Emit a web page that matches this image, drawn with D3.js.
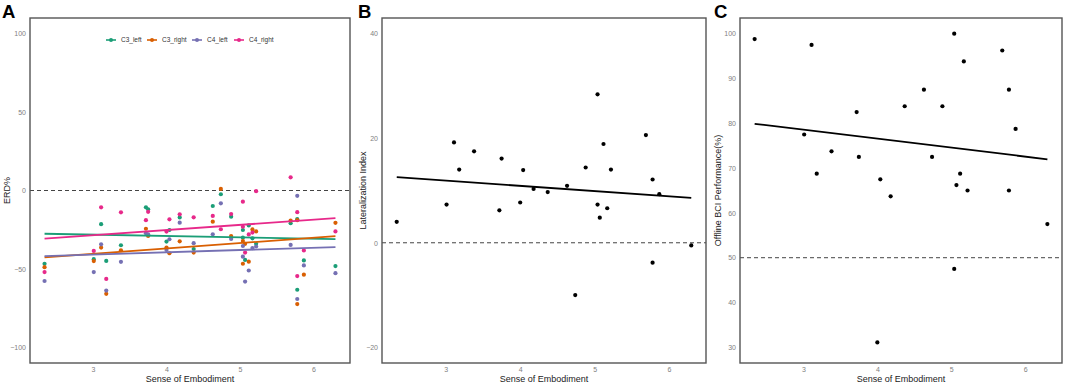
<!DOCTYPE html>
<html>
<head>
<meta charset="utf-8">
<script src="https://cdn.jsdelivr.net/npm/d3@7"></script>
<style>
  body { margin: 0; background: #fff; }
  svg { display: block; font-family: "Liberation Sans", Arial, sans-serif; }
  .tick text { fill: #808080; font-size: 7px; }
</style>
</head>
<body>
<div id="chart"></div>
<script>
// subjects, sorted by sense of embodiment score
const embodiment = [2.34, 3.01, 3.11, 3.18, 3.38, 3.72, 3.75, 4.00, 4.04, 4.18, 4.37, 4.63, 4.74,
  4.88, 5.04, 5.04, 5.07, 5.12, 5.17, 5.22, 5.69, 5.78, 5.78, 5.87, 6.30];

// panel A: ERD% per channel / hand
const erdC3Left = [-46.7, -43.8, -21.5, -44.9, -34.9, -10.7, -12.0, -32.6, -25.2, -17.2, -37.3, -9.9, -2.4,
  -16.7, -25.2, -30.1, -44.3, -22.3, -30.5, -34.0, -20.9, -18.3, -63.3, -44.6, -48.2];
const erdC3Right = [-48.9, -45.0, -36.4, -65.9, -38.1, -24.4, -29.0, -36.4, -40.0, -32.4, -39.6, -19.9, 1.0,
  -29.0, -32.2, -46.7, -34.0, -45.4, -24.8, -26.1, -19.2, -18.9, -72.4, -53.7, -20.6];
const erdC4Left = [-57.7, -52.0, -34.3, -63.8, -45.5, -27.2, -27.9, -37.9, -31.1, -20.5, -33.6, -27.9, -8.2,
  -30.9, -35.4, -42.2, -58.1, -51.0, -36.7, -35.7, -34.7, -3.4, -69.2, -47.8, -52.7];
const erdC4Right = [-52.0, -38.5, -10.7, -56.4, -13.9, -18.9, -13.6, -26.2, -18.4, -15.2, -17.1, -16.2, -24.7,
  -15.0, -7.1, -23.1, -39.6, -28.0, -26.8, -0.4, 8.4, -13.8, -54.6, -38.2, -26.1];

// panel B / C
const lateralization = [4.0, 7.3, 19.2, 14.0, 17.5, 6.2, 16.1, 7.7, 13.9, 10.3, 9.7, 10.9, -10.0,
  14.4, 28.4, 7.3, 4.8, 18.9, 6.6, 14.0, 20.6, 12.1, -3.8, 9.3, -0.5];
const bciPerformance = [98.8, 77.5, 97.5, 68.75, 73.75, 82.5, 72.5, 31.1, 67.5, 63.7, 83.8, 87.5, 72.5,
  83.8, 100, 47.5, 66.2, 68.75, 93.8, 65, 96.25, 87.5, 65, 78.75, 57.5];

const seriesNames = ["C3_left", "C3_right", "C4_left", "C4_right"];
const seriesColors = ["#1b9e77", "#d95f02", "#7570b3", "#e7298a"];
const xTicks = [3, 4, 5, 6];
const yTicksA = [-100, -50, 0, 50, 100];
const yTicksB = [-20, 0, 20, 40];
const yTicksC = [30, 40, 50, 60, 70, 80, 90, 100];

const W = 1065, H = 385;
const plotTop = 18, plotBottom = 363;

const svg = d3.select("#chart").append("svg")
  .attr("width", W)
  .attr("height", H);

// least squares fit, returns the two end points over the data range
function fitLine(xs, ys) {
  const mx = d3.mean(xs), my = d3.mean(ys);
  let sxy = 0, sxx = 0;
  xs.forEach((x, i) => { sxy += (x - mx) * (ys[i] - my); sxx += (x - mx) * (x - mx); });
  const b = sxy / sxx, a = my - b * mx;
  const [x0, x1] = d3.extent(xs);
  return [[x0, a + b * x0], [x1, a + b * x1]];
}

// ggplot style 5% expansion
function expand(lo, hi) {
  const p = (hi - lo) * 0.05;
  return [lo - p, hi + p];
}

function drawPanel(opt) {
  const g = svg.append("g");
  const xr = d3.extent(embodiment);
  const x = d3.scaleLinear().domain(expand(xr[0], xr[1])).range([opt.left, opt.right]);
  const y = d3.scaleLinear().domain(expand(opt.ylim[0], opt.ylim[1])).range([plotBottom, plotTop]);

  // axes
  g.append("g")
    .attr("transform", `translate(0,${plotBottom})`)
    .call(d3.axisBottom(x).tickValues(xTicks).tickFormat(d3.format("d")).tickSize(0).tickPadding(4))
    .call(a => a.select(".domain").remove());
  g.append("g")
    .attr("transform", `translate(${opt.left},0)`)
    .call(d3.axisLeft(y).tickValues(opt.yTicks).tickSize(0).tickPadding(4))
    .call(a => a.select(".domain").remove());

  // reference line
  g.append("line")
    .attr("x1", opt.left).attr("x2", opt.right)
    .attr("y1", y(opt.refLine)).attr("y2", y(opt.refLine))
    .style("stroke", "#444")
    .style("stroke-width", 1)
    .style("stroke-dasharray", "4,3");

  opt.series.forEach(s => {
    g.append("g").selectAll("circle")
      .data(s.values)
      .enter().append("circle")
      .attr("cx", (d, i) => x(embodiment[i]))
      .attr("cy", d => y(d))
      .attr("r", 2.1)
      .style("fill", s.color);
  });

  opt.series.forEach(s => {
    const pts = fitLine(embodiment, s.values);
    g.append("line")
      .attr("x1", x(pts[0][0])).attr("y1", y(pts[0][1]))
      .attr("x2", x(pts[1][0])).attr("y2", y(pts[1][1]))
      .style("stroke", s.color)
      .style("stroke-width", 1.8);
  });

  // border
  g.append("rect")
    .attr("x", opt.left).attr("y", plotTop)
    .attr("width", opt.right - opt.left).attr("height", plotBottom - plotTop)
    .style("fill", "none")
    .style("stroke", "#555")
    .style("stroke-width", 1.4);

  // titles
  g.append("text")
    .attr("x", (opt.left + opt.right) / 2)
    .attr("y", 381.5)
    .style("text-anchor", "middle")
    .style("font-size", "9px")
    .style("fill", "#222")
    .text("Sense of Embodiment");

  g.append("text")
    .attr("transform", `translate(${opt.yTitleX},${(plotTop + plotBottom) / 2}) rotate(-90)`)
    .style("text-anchor", "middle")
    .style("font-size", "9px")
    .style("fill", "#222")
    .text(opt.yTitle);

  g.append("text")
    .attr("x", opt.labelX)
    .attr("y", 18)
    .style("font-size", "18.5px")
    .style("font-weight", "bold")
    .style("fill", "#000")
    .text(opt.label);

  return g;
}

const erdSeries = [erdC3Left, erdC3Right, erdC4Left, erdC4Right]
  .map((v, i) => ({ name: seriesNames[i], color: seriesColors[i], values: v }));

const gA = drawPanel({
  left: 30, right: 350, ylim: [-100, 100], yTicks: yTicksA, refLine: 0,
  series: erdSeries, yTitle: "ERD%", yTitleX: 9.5, label: "A", labelX: 2
});

drawPanel({
  left: 382, right: 706, ylim: [-20, 40], yTicks: yTicksB, refLine: 0,
  series: [{ color: "#000", values: lateralization }],
  yTitle: "Lateralization Index", yTitleX: 365.5, label: "B", labelX: 358
});

drawPanel({
  left: 740, right: 1062, ylim: [30, 100], yTicks: yTicksC, refLine: 50,
  series: [{ color: "#000", values: bciPerformance }],
  yTitle: "Offline BCI Performance(%)", yTitleX: 721, label: "C", labelX: 714
});

// legend for panel A
const legendX = [106, 147, 192, 234];
const legend = gA.append("g").selectAll("g")
  .data(erdSeries)
  .enter().append("g")
  .attr("transform", (d, i) => `translate(${legendX[i]},40)`);

legend.append("line")
  .attr("x1", 0).attr("x2", 10)
  .style("stroke", d => d.color)
  .style("stroke-width", 1.6);
legend.append("circle")
  .attr("cx", 5).attr("r", 2)
  .style("fill", d => d.color);
legend.append("text")
  .attr("x", 15)
  .attr("dy", "0.35em")
  .style("font-size", "6.5px")
  .style("fill", "#333")
  .text(d => d.name);
</script>
</body>
</html>
